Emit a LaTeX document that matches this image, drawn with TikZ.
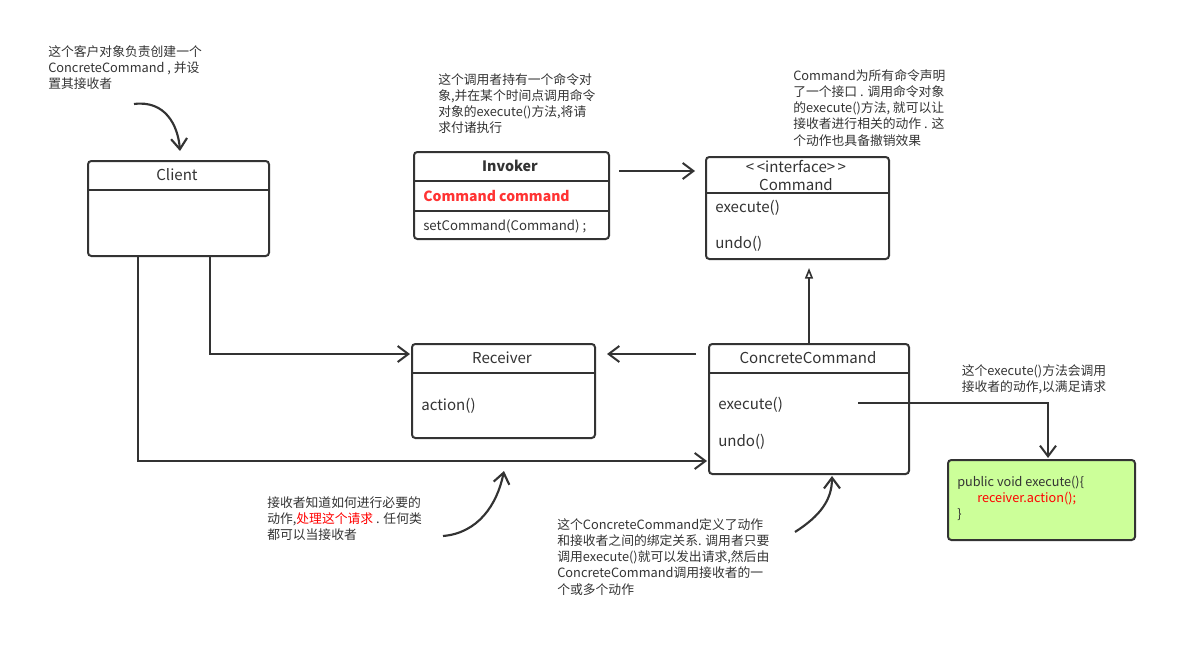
\documentclass[tikz,border=0pt]{standalone}
\usepackage{fontspec}
\setmainfont{Noto Sans CJK SC}
\usetikzlibrary{arrows.meta,calc}
\definecolor{linec}{HTML}{333333}
\definecolor{txtc}{HTML}{333333}
\definecolor{redc}{HTML}{FF3333}
\definecolor{greenc}{HTML}{CCFF99}
\def\pxu{0.75pt}
\begin{document}
\begin{tikzpicture}[x=0.75pt,y=-0.75pt,
  notefont/.style={font=\fontsize{9.6pt}{12.2pt}\selectfont},
  boxfont/.style={font=\fontsize{11.3pt}{13pt}\selectfont},
  note/.style={notefont, text=txtc, align=left, anchor=north west, inner sep=0pt},
  box/.style={draw=linec, line width=1.5pt, rounded corners=2.5pt, anchor=north west, inner sep=0pt, fill=white},
  divider/.style={draw=linec, line width=1.5pt},
  title/.style={boxfont, text=txtc, anchor=center, inner sep=0pt},
  member/.style={boxfont, text=txtc, anchor=west, inner sep=0pt},
  conn/.style={draw=linec, line width=1.5pt, -{Straight Barb[length=8pt,width=12pt,line width=1.5pt]}},
  inherit/.style={draw=linec, line width=1.5pt, -{Triangle[open,length=8pt,width=6pt,line width=1.2pt]}},
  curvearr/.style={draw=linec, line width=1.6pt, -{Straight Barb[length=8pt,width=12pt,line width=1.6pt]}}
]
\useasboundingbox (0,0) rectangle (1196,646);

% ---- boxes ----
\node[box, minimum width=181*\pxu, minimum height=95*\pxu] (client) at (87,160) {};
\draw[divider] (client.west |- 0,190) -- (client.east |- 0,190);
\node[title] (clientT) at (177,175) {Client};

\node[box, minimum width=195*\pxu, minimum height=87*\pxu] (invoker) at (413,151) {};
\draw[divider] (invoker.west |- 0,181) -- (invoker.east |- 0,181);
\draw[divider] (invoker.west |- 0,211) -- (invoker.east |- 0,211);
\node[title, font=\fontsize{10.7pt}{12pt}\selectfont\bfseries] (invokerT) at (510,166) {Invoker};
\node[member, text=redc, font=\fontsize{10.5pt}{12pt}\selectfont\bfseries] (invokerA) at (423,196) {Command command};
\node[member, font=\fontsize{9.9pt}{12pt}\selectfont] (invokerM) at (423,226) {setCommand(Command) ;};

\node[box, minimum width=183*\pxu, minimum height=102*\pxu] (command) at (705,156) {};
\draw[divider] (command.west |- 0,193) -- (command.east |- 0,193);
\node[title] (commandS) at (796,167) {{<}\,{<}interface{>}\,{>}};
\node[title] (commandT) at (796,185) {Command};
\node[member] (commandM1) at (715,208) {execute()};
\node[member] (commandM2) at (715,244) {undo()};

\node[box, minimum width=183*\pxu, minimum height=94*\pxu] (receiver) at (411,343) {};
\draw[divider] (receiver.west |- 0,373) -- (receiver.east |- 0,373);
\node[title] (receiverT) at (502,358) {Receiver};
\node[member] (receiverM) at (421,406) {action()};

\node[box, minimum width=200*\pxu, minimum height=130*\pxu] (cc) at (708,343) {};
\draw[divider] (cc.west |- 0,373) -- (cc.east |- 0,373);
\node[title] (ccT) at (808,358) {ConcreteCommand};
\node[member] (ccM1) at (718,405) {execute()};
\node[member] (ccM2) at (718,442) {undo()};

\node[box, fill=greenc, minimum width=187*\pxu, minimum height=80*\pxu] (green) at (947,459) {};
\node[member, font=\fontsize{9.5pt}{12pt}\selectfont] (g1) at (957,483) {public void execute()\{};
\node[member, text=red, font=\fontsize{9.5pt}{12pt}\selectfont] (g2) at (977,499) {receiver.action();};
\node[member, font=\fontsize{9.5pt}{12pt}\selectfont] (g3) at (957,515) {\}};

% ---- notes ----
\node[note] (n1) at (48,45) {这个客户对象负责创建一个\\ConcreteCommand , 并设\\置其接收者};
\node[note] (n2) at (438,73) {这个调用者持有一个命令对\\象,并在某个时间点调用命令\\对象的execute()方法,将请\\求付诸执行};
\node[note] (n3) at (793,69) {Command为所有命令声明\\了一个接口 . 调用命令对象\\的execute()方法, 就可以让\\接收者进行相关的动作 . 这\\个动作也具备撤销效果};
\node[note, align=center, anchor=north] (n4) at (1034,364) {这个execute()方法会调用\\接收者的动作,以满足请求};
\node[note] (n5) at (267,496) {接收者知道如何进行必要的\\动作,{\color{red}处理这个请求} . 任何类\\都可以当接收者};
\node[note] (n6) at (557,518) {这个ConcreteCommand定义了动作\\和接收者之间的绑定关系. 调用者只要\\调用execute()就可以发出请求,然后由\\ConcreteCommand调用接收者的一\\个或多个动作};

% ---- connectors ----
\draw[conn] ($(invoker.north east)+(9,20)$) -- ($(command.north west)+(-10,15)$);
\draw[inherit] (cc.north) -- ($(cc.north |- command.south)+(0,8)$);
\draw[conn] ($(cc.north west)+(-12,11)$) -- ($(receiver.north east)+(11,11)$);
\draw[conn] ($(client.south west)+(123,0)$) |- ($(receiver.north west)+(-1,11)$);
\draw[conn] ($(client.south west)+(51,0)$) |- ($(cc.south west)+(-1,-14)$);
\draw[conn] ($(cc.north west)+(150,60)$) -| ($(green.north west)+(101,-1)$);

% ---- curved pointers ----
\coordinate (c1s) at (134,104);
\coordinate (c1e) at (180,151);
\draw[curvearr] (c1s) .. controls (165,100) and (178,125) .. (c1e);
\coordinate (c2s) at (443,536);
\coordinate (c2e) at (504,471);
\draw[curvearr] (c2s) .. controls (478,533) and (497,505) .. (c2e);
\coordinate (c3s) at (795,532);
\coordinate (c3e) at (832,476);
\draw[curvearr] (c3s) .. controls (820,516) and (832,500) .. (c3e);
\end{tikzpicture}
\end{document}
